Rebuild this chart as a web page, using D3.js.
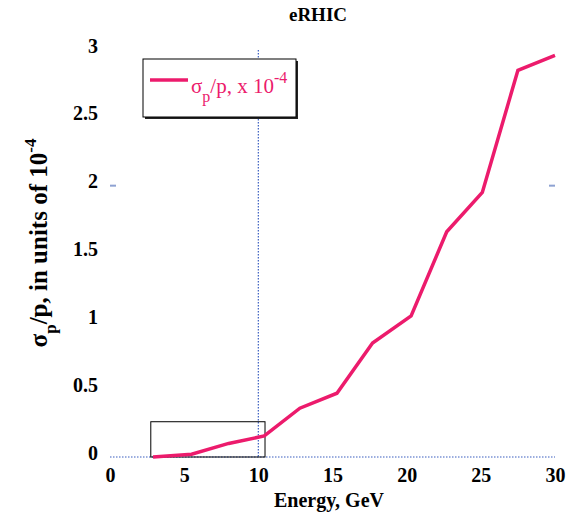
<!DOCTYPE html>
<html>
<head>
<meta charset="utf-8">
<script src="https://cdn.jsdelivr.net/npm/d3@7"></script>
<style>
  html, body { margin: 0; padding: 0; background: #fff; }
  svg { display: block; }
  text { font-family: "Liberation Serif", "Times New Roman", serif; }
</style>
</head>
<body>
<svg id="chart" width="580" height="515"></svg>
<script>
// Beam energy (GeV) and relative momentum spread (units of 1e-4)
const energy = [2.9, 5.5, 8.0, 10.4, 12.8, 15.3, 17.7, 20.3, 22.7, 25.1, 27.5, 30.0];
const spread = [0.00, 0.02, 0.10, 0.155, 0.36, 0.47, 0.84, 1.04, 1.66, 1.95, 2.85, 2.96];
const xTicks = [0, 5, 10, 15, 20, 25, 30];
const yTicks = [0, 0.5, 1, 1.5, 2, 2.5, 3];
// Low-energy region outlined on the plot
const boxX = [2.75, 10.45];
const boxY = [0, 0.26];

const svg = d3.select("#chart");
const x = d3.scaleLinear().domain([0, 30]).range([110, 555]);
const y = d3.scaleLinear().domain([0, 3]).range([457, 50]);

const pink = "#ec1b6c";
const blue = "#3a5ec0";

// Title
svg.append("text").attr("x", 318).attr("y", 21)
  .attr("text-anchor", "middle").attr("font-weight", "bold").attr("font-size", 19)
  .text("eRHIC");

// Zero line (dotted)
svg.append("line")
  .attr("x1", x(0)).attr("x2", x(30)).attr("y1", y(0)).attr("y2", y(0))
  .attr("stroke", blue).attr("stroke-width", 1.2).attr("stroke-dasharray", "1.5,1.5");

// Vertical dotted marker at 10 GeV
svg.append("line")
  .attr("x1", x(10)).attr("x2", x(10)).attr("y1", y(3)).attr("y2", y(0))
  .attr("stroke", blue).attr("stroke-width", 1.2).attr("stroke-dasharray", "1.5,1.5");

// Short grid stubs at 2
[[x(0), x(0) + 6], [x(30) - 6, x(30)]].forEach(([a, b]) => {
  svg.append("line").attr("x1", a).attr("x2", b).attr("y1", y(2)).attr("y2", y(2))
    .attr("stroke", "#8ea2d2").attr("stroke-width", 2);
});

// Low-energy outline box
svg.append("rect")
  .attr("x", x(boxX[0])).attr("y", y(boxY[1]))
  .attr("width", x(boxX[1]) - x(boxX[0])).attr("height", y(boxY[0]) - y(boxY[1]))
  .attr("fill", "none").attr("stroke", "#000").attr("stroke-width", 1);

// Data line
svg.append("path")
  .datum(energy.map((e, i) => [e, spread[i]]))
  .attr("fill", "none").attr("stroke", pink).attr("stroke-width", 3.5)
  .attr("stroke-linejoin", "miter")
  .attr("d", d3.line().x(d => x(d[0])).y(d => y(d[1])));

// Axes (labels only)
const xAxis = svg.append("g").attr("transform", `translate(0,${y(0)})`)
  .call(d3.axisBottom(x).tickValues(xTicks).tickSize(0).tickPadding(11).tickFormat(d3.format("d")));
xAxis.select(".domain").remove();
xAxis.selectAll("text").attr("font-family", "Liberation Serif, serif")
  .attr("font-size", 20).attr("font-weight", "bold").attr("fill", "#000");

const yAxis = svg.append("g").attr("transform", `translate(${x(0)},0)`)
  .call(d3.axisLeft(y).tickValues(yTicks).tickSize(0).tickPadding(12).tickFormat(d => String(d)));
yAxis.select(".domain").remove();
yAxis.selectAll("text").attr("font-family", "Liberation Serif, serif")
  .attr("font-size", 20).attr("font-weight", "bold").attr("fill", "#000").attr("dy", "0.1em");

// Axis titles
svg.append("text").attr("x", 329).attr("y", 507)
  .attr("text-anchor", "middle").attr("font-weight", "bold").attr("font-size", 20)
  .text("Energy, GeV");

const yt = svg.append("text")
  .attr("transform", "translate(47,243) rotate(-90)")
  .attr("text-anchor", "middle").attr("font-weight", "bold").attr("font-size", 25);
yt.append("tspan").text("σ");
yt.append("tspan").attr("dy", 9).attr("font-size", 17).text("p");
yt.append("tspan").attr("dy", -9).text("/p, in units of 10");
yt.append("tspan").attr("dy", -11).attr("font-size", 17).text("-4");

// Legend with drop shadow
const lg = svg.append("g");
lg.append("rect").attr("x", 145).attr("y", 61).attr("width", 153).attr("height", 58).attr("fill", "#222");
lg.append("rect").attr("x", 143).attr("y", 59).attr("width", 153).attr("height", 58)
  .attr("fill", "#fff").attr("stroke", "#000").attr("stroke-width", 1);
lg.append("line").attr("x1", 150).attr("x2", 188).attr("y1", 80).attr("y2", 80)
  .attr("stroke", pink).attr("stroke-width", 3.5);
const lt = lg.append("text").attr("x", 191).attr("y", 93).attr("font-size", 21).attr("fill", pink);
lt.append("tspan").text("σ");
lt.append("tspan").attr("dy", 9).attr("font-size", 16).text("p");
lt.append("tspan").attr("dy", -9).text("/p, x 10");
lt.append("tspan").attr("dy", -10).attr("font-size", 16).text("-4");
</script>
</body>
</html>
